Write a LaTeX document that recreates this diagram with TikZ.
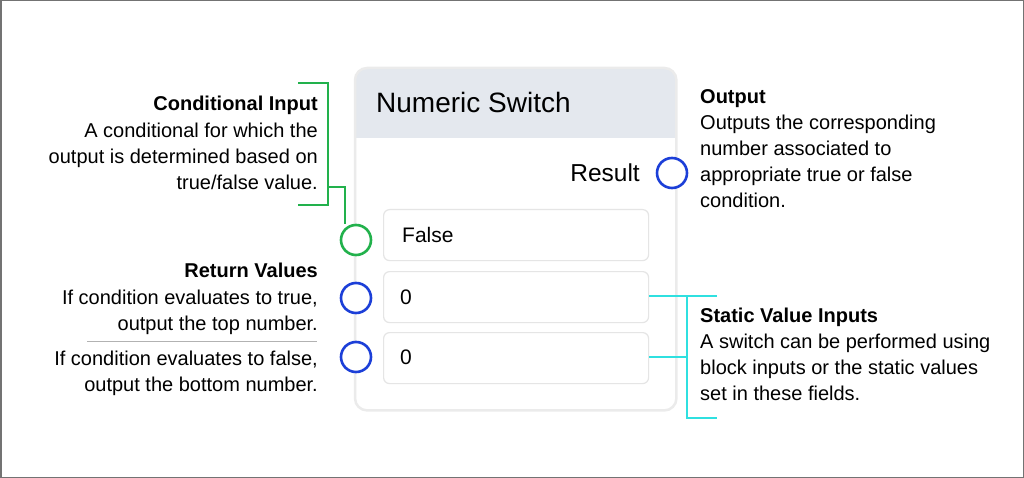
\documentclass[tikz,border=0pt]{standalone}
\usepackage{fontspec}
\setmainfont{Liberation Sans}
\begin{document}
\begin{tikzpicture}[x=1pt,y=-1pt,
 body/.style={font=\fontsize{20}{26}\selectfont, inner sep=0pt},
 ttl/.style={font=\fontsize{20}{26}\selectfont\bfseries, inner sep=0pt},
 field/.style={draw=black!10, line width=1.2pt, rounded corners=6pt, fill=white},
 port/.style={circle, draw, line width=2.6pt, minimum size=30pt, inner sep=0pt, fill=white},
 grn/.style={line width=1.2pt},
 cyn/.style={line width=1.2pt}]
\definecolor{hdr}{HTML}{E4E8EE}
\definecolor{pblue}{HTML}{1C3FD8}
\definecolor{pgreen}{HTML}{22B14C}
\definecolor{pcyan}{HTML}{2FE0E0}
\useasboundingbox (0,0) rectangle (1024,478);
\draw[black!55, line width=1.5pt] (0.75,0.75) rectangle (1023.25,477.25);
% card
\node[fill=white, rounded corners=12pt, minimum width=321pt, minimum height=342pt, anchor=north west, inner sep=0pt] (card) at (355,68) {};
\begin{scope}
\clip[rounded corners=12pt] (355,68) rectangle (676,410);
\fill[hdr] (355,68) rectangle (676,138);
\end{scope}
\draw[black!8, line width=2.5pt, rounded corners=12pt] (card.north west) rectangle (card.south east);
\node[font=\fontsize{28}{32}\selectfont, anchor=base west, inner sep=0pt] (title) at (376,113) {Numeric Switch};
\node[font=\fontsize{24.5}{28}\selectfont, anchor=base east, inner sep=0pt] (res) at (640,182) {Result};
\node[field, minimum width=265pt, minimum height=51pt, anchor=north west] (f1) at (383,209) {};
\node[field, minimum width=265pt, minimum height=51pt, anchor=north west] (f2) at (383,271) {};
\node[field, minimum width=265pt, minimum height=51pt, anchor=north west] (f3) at (383,332) {};
\node[font=\fontsize{21}{24}\selectfont, anchor=base west, inner sep=0pt] (t1) at (402,243) {False};
\node[font=\fontsize{21}{24}\selectfont, anchor=base west, inner sep=0pt] (t2) at (400,304) {0};
\node[font=\fontsize{21}{24}\selectfont, anchor=base west, inner sep=0pt] (t3) at (400,364) {0};
\node[port, draw=pgreen] (pc) at (356,240) {};
\node[port, draw=pblue] (pt) at (356,298) {};
\node[port, draw=pblue] (pf) at (356,357) {};
\node[port, draw=pblue] (po) at (672,173) {};
% left texts
\node[ttl, anchor=base east] (ci) at (318,111) {Conditional Input};
\node[body, anchor=base east] (cil1) at (318,138) {A conditional for which the};
\node[body, anchor=base east] (cil2) at (318,164) {output is determined based on};
\node[body, anchor=base east] (cil3) at (318,190) {true/false value.};
\node[ttl, anchor=base east] (rv) at (318,277) {Return Values};
\node[body, anchor=base east] (rv1) at (318,304) {If condition evaluates to true,};
\node[body, anchor=base east] (rv2) at (318,330) {output the top number.};
\node[body, anchor=base east] (rv3) at (318,365) {If condition evaluates to false,};
\node[body, anchor=base east] (rv4) at (318,391) {output the bottom number.};
\draw[black!30, line width=0.8pt] (87,341) -- (317,341);
% right texts
\node[ttl, anchor=base west] (ou) at (700,104) {Output};
\node[body, anchor=base west] (ou1) at (700,130) {Outputs the corresponding};
\node[body, anchor=base west] (ou2) at (700,156) {number associated to};
\node[body, anchor=base west] (ou3) at (700,182) {appropriate true or false};
\node[body, anchor=base west] (ou4) at (700,208) {condition.};
\node[ttl, anchor=base west] (sv) at (700,322) {Static Value Inputs};
\node[body, anchor=base west] (sv1) at (700,348) {A switch can be performed using};
\node[body, anchor=base west] (sv2) at (700,374) {block inputs or the static values};
\node[body, anchor=base west] (sv3) at (700,400) {set in these fields.};
% green bracket
\coordinate (gb1) at (298,83);
\coordinate (gb2) at (298,205);
\draw[grn, draw=pgreen] (gb1) -- (328,83) -- (328,205) -- (gb2);
\draw[grn, draw=pgreen] (328,187) -- (345,187) -- (pc.north -| 345,0);
% cyan bracket
\coordinate (cb1) at (717,296);
\coordinate (cb2) at (717,418);
\draw[cyn, draw=pcyan] (cb1) -- (687,296) -- (687,418) -- (cb2);
\draw[cyn, draw=pcyan] (f2.east |- 0,296) -- (687,296);
\draw[cyn, draw=pcyan] (f3.east |- 0,357) -- (687,357);
\end{tikzpicture}
\end{document}
